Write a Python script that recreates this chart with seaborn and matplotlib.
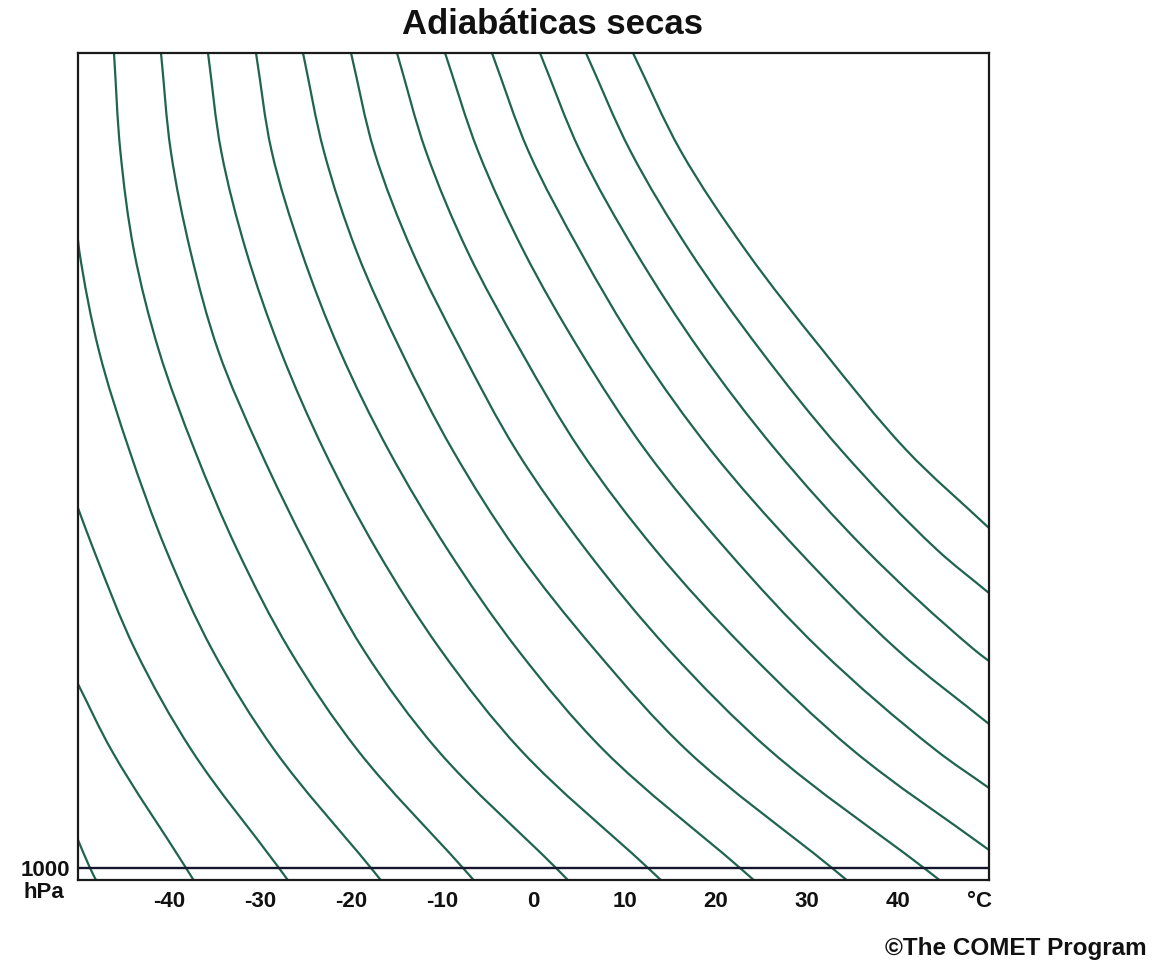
import numpy as np
import pandas as pd
import matplotlib
matplotlib.use("Agg")
import matplotlib.pyplot as plt
from matplotlib.path import Path
from matplotlib.patches import PathPatch
from matplotlib.ticker import NullLocator
import seaborn as sns

nan = np.nan

# Pressure levels (hPa) at which each dry adiabat is sampled
PRESSURE_HPA = [100, 132, 175, 232, 307, 407, 540, 717, 1000, 1035]

# Diagram temperature (°C) of the 16 dry adiabats, coldest to warmest, at each level
T_100 = [nan, nan, nan, nan, -46.05, -40.89, -35.73, -30.46, -25.30, -20.03, -14.98, -9.71, -4.56, 0.71, 5.76, 10.92]
T_132 = [nan, nan, nan, nan, -45.35, -39.81, -34.28, -28.74, -23.01, -17.48, -11.81, -6.08, -0.55, 5.12, 10.65, 16.18]
T_175 = [nan, nan, nan, -49.86, -43.85, -37.66, -31.54, -25.49, -19.43, -13.32, -7.26, -1.08, 5.12, 11.16, 17.16, 23.35]
T_232 = [nan, nan, nan, -47.70, -41.11, -34.60, -27.76, -21.25, -14.54, -7.90, -1.39, 5.12, 11.62, 18.27, 24.97, 31.81]
T_307 = [nan, nan, nan, -44.37, -37.20, -30.04, -23.01, -15.92, -8.88, -1.92, 5.12, 12.27, 19.44, 26.60, 33.76, 40.92]
T_407 = [nan, nan, -48.28, -40.34, -32.52, -24.71, -17.22, -9.41, -1.92, 5.76, 13.38, 21.19, 29.00, 36.49, 44.30, nan]
T_540 = [nan, nan, -43.72, -35.26, -26.78, -18.65, -10.19, -1.72, 6.74, 14.87, 23.35, 31.48, 39.95, 48.41, nan, nan]
T_717 = [nan, -46.32, -37.53, -28.42, -19.30, -10.52, -1.39, 7.72, 16.83, 25.95, 35.07, 44.18, nan, nan, nan, nan]
T_1000 = [-48.68, -38.14, -27.94, -17.84, -7.74, 2.47, 12.57, 22.67, 32.77, 42.86, nan, nan, nan, nan, nan, nan]
T_1035 = [-48.02, -37.31, -26.96, -16.76, -6.56, 3.79, 13.99, 24.19, 34.39, 44.59, nan, nan, nan, nan, nan, nan]

# Where the four coldest adiabats enter through the left border (-50 °C)
LEFT_ENTRY_HPA = [923.9, 594.7, 361.7, 169.6]
# Where the six warmest adiabats leave through the right border (50 °C)
RIGHT_EXIT_HPA = [950.4, 797.7, 665.8, 557.3, 459.9, 382.7]

T_MIN, T_MAX = -50, 50
X_TICKS = [-40, -30, -20, -10, 0, 10, 20, 30, 40]
UNIT_TICK = 49

LINE_COLOR = "#1f6450"
LINE_WIDTH = 1.6

# ---- assemble the curves -------------------------------------------------
rows = [T_100, T_132, T_175, T_232, T_307, T_407, T_540, T_717, T_1000, T_1035]
records = []
n_curves = len(T_100)
for i in range(n_curves):
    for p, row in zip(PRESSURE_HPA, rows):
        if not np.isnan(row[i]):
            records.append((i, p, row[i]))
for i, p in enumerate(LEFT_ENTRY_HPA):
    records.append((i, p, T_MIN))
for k, p in enumerate(RIGHT_EXIT_HPA):
    records.append((n_curves - len(RIGHT_EXIT_HPA) + k, p, T_MAX))
df = pd.DataFrame(records, columns=["adiabata", "presion", "temperatura"])
df = df.sort_values(["adiabata", "presion"]).reset_index(drop=True)


def smooth_path(temps, pres, sx=9.11, sy=354.0):
    """Cubic Bezier path through the sampled points (a smooth line style).
    Tangents are the mean of the unit directions of the adjoining segments,
    measured in a screen-proportional space."""
    P = np.column_stack([np.asarray(temps) * sx, np.log(np.asarray(pres)) * sy])
    n = len(P)
    seg = np.diff(P, axis=0)
    seg_len = np.hypot(seg[:, 0], seg[:, 1])
    unit = seg / seg_len[:, None]
    tang = np.empty_like(P)
    tang[0] = unit[0]
    tang[-1] = unit[-1]
    for i in range(1, n - 1):
        d = unit[i - 1] + unit[i]
        tang[i] = d / np.hypot(*d)
    verts = [P[0]]
    codes = [Path.MOVETO]
    for i in range(n - 1):
        h = seg_len[i] / 3
        verts += [P[i] + tang[i] * h, P[i + 1] - tang[i + 1] * h, P[i + 1]]
        codes += [Path.CURVE4] * 3
    V = np.array(verts)
    data = np.column_stack([V[:, 0] / sx, np.exp(V[:, 1] / sy)])
    return Path(data, codes)


# ---- figure --------------------------------------------------------------
sns.set_theme(style="white")
plt.rcParams["font.family"] = ["Liberation Sans", "DejaVu Sans"]

fig = plt.figure(figsize=(11.55, 9.68), dpi=100)
ax = fig.add_axes([78 / 1155, 1 - 880 / 968, 911 / 1155, 827 / 968])

sns.lineplot(data=df, x="temperatura", y="presion", units="adiabata",
             estimator=None, sort=False, color=LINE_COLOR, linewidth=LINE_WIDTH, ax=ax)

ax.set_yscale("log")
ax.set_xlim(T_MIN, T_MAX)
ax.set_ylim(1034.5, 100)

# render each adiabat with a smooth line through its points
for line in list(ax.lines):
    xs, ys = line.get_xdata(), line.get_ydata()
    ok = ~(np.isnan(xs) | np.isnan(ys))
    if ok.sum() >= 2:
        ax.add_patch(PathPatch(smooth_path(xs[ok], ys[ok]), fill=False,
                               edgecolor=line.get_color(), linewidth=LINE_WIDTH,
                               transform=ax.transData, zorder=2))
    line.remove()

# 1000 hPa reference line
ax.axhline(1000, color="#15152e", linewidth=1.7, zorder=3)

ax.set_xticks(X_TICKS + [UNIT_TICK])
ax.set_xticklabels([str(t) for t in X_TICKS] + ["°C"], fontweight="bold", fontsize=16)
ax.yaxis.set_minor_locator(NullLocator())
ax.set_yticks([1000])
ax.set_yticklabels(["1000"], fontweight="bold", fontsize=16)
ax.tick_params(axis="x", length=0, pad=8, colors="#111111")
ax.tick_params(axis="y", length=0, pad=6, colors="#111111")
ax.set_xlabel("")
ax.set_ylabel("")

for spine in ax.spines.values():
    spine.set_visible(True)
    spine.set_color("#1a1a1a")
    spine.set_linewidth(1.6)
    spine.set_zorder(4)

fig.text(44 / 1155, 1 - 893 / 968, "hPa", ha="center", va="center",
         fontweight="bold", fontsize=16, color="#111111")
fig.text(552 / 1155, 1 - 24 / 968, "Adiabáticas secas", ha="center", va="center",
         fontweight="bold", fontsize=25, color="#111111")
fig.text(1147 / 1155, 1 - 948 / 968, "©The COMET Program", ha="right", va="center",
         fontweight="bold", fontsize=17.5, color="#111111")

fig.savefig("out.png", dpi=100)
